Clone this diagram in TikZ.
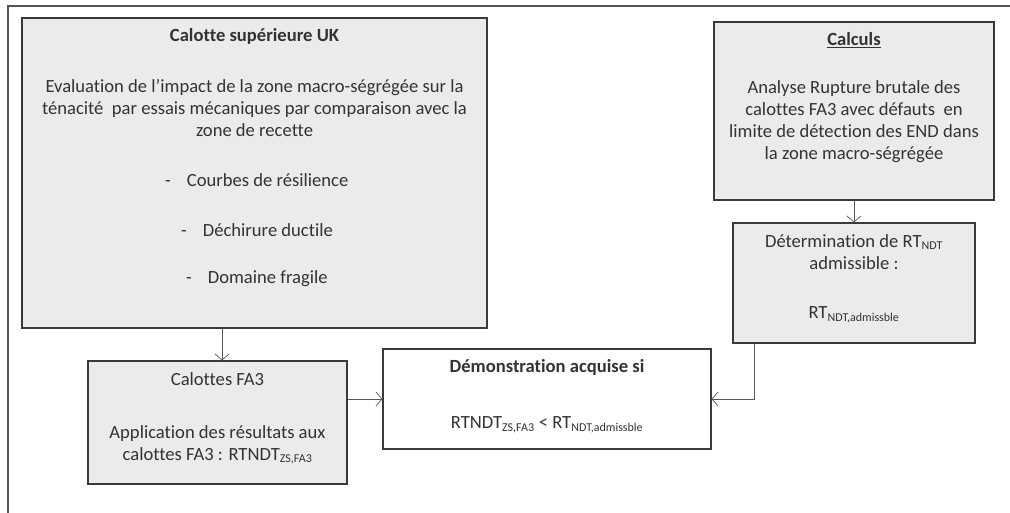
\documentclass[tikz,border=0pt]{standalone}
\usepackage{fontspec}
\setmainfont{Carlito}[Ligatures={NoCommon}]
\usetikzlibrary{arrows.meta}
\definecolor{boxfill}{HTML}{EBEBEB}
\definecolor{boxline}{HTML}{3A3A3A}
\definecolor{frameline}{HTML}{555555}
\definecolor{txt}{HTML}{333333}
\newcommand{\sbs}[1]{\textsubscript{\fontsize{12}{12}\selectfont #1}}
\newcommand{\mainsize}{\fontsize{18.6}{22}\selectfont}
\begin{document}
\begin{tikzpicture}[x=1pt,y=-1pt,
  panel/.style={draw=boxline, line width=1.1pt, fill=boxfill, inner sep=0pt},
  whitepanel/.style={draw=boxline, line width=1.1pt, fill=white, inner sep=0pt},
  label/.style={text=txt, font=\mainsize, inner sep=0pt, anchor=center},
  boldlabel/.style={label, font=\bfseries\mainsize},
  conn/.style={draw=gray!70!black, line width=0.7pt, -{Straight Barb[length=6pt,width=14pt]}}
]
\useasboundingbox (0,0) rectangle (1010,513);
\draw[frameline, line width=1.3pt] (1010,6) -- (8,6) -- (8,513);

% big box
\node[panel, minimum width=465pt, minimum height=310pt] (uk) at (254.5,173) {};
\node[boldlabel] (ukt) at (254.5,36) {Calotte supérieure UK};
\node[label, align=center] (ukb) at (254.5,108) {Evaluation de l’impact de la zone macro-ségrégée sur la\\ ténacité\ \ par essais mécaniques par comparaison avec la\\ zone de recette};
\node[label, anchor=west] (b1) at (165,180) {-\hspace{16pt}Courbes de résilience};
\node[label, anchor=west] (b2) at (181,230) {-\hspace{16pt}Déchirure ductile};
\node[label, anchor=west] (b3) at (186,279) {-\hspace{16pt}Domaine fragile};

% calculs
\node[panel, minimum width=280pt, minimum height=178pt] (calc) at (854,111) {};
\node[boldlabel] (calct) at (854,40) {\underline{Calculs}};
\node[label, align=center] (calcb) at (854,122) {Analyse Rupture brutale des\\ calottes FA3 avec défauts\ \ en\\ limite de détection des END dans\\ la zone macro-ségrégée};

% determination
\node[panel, minimum width=242pt, minimum height=120pt] (det) at (854,283) {};
\node[label, align=center] (dett) at (854,252) {Détermination de RT\sbs{NDT}\\ admissible :};
\node[label] (detb) at (854,315) {RT\sbs{NDT,admissble}};

% FA3
\node[panel, minimum width=259pt, minimum height=123pt] (fa3) at (217.5,422.5) {};
\node[label] (fa3t) at (217.5,379) {Calottes FA3};
\node[label, align=center] (fa3b) at (217.5,445) {Application des résultats aux\\ calottes FA3 : RTNDT\sbs{ZS,FA3}};

% demonstration
\node[whitepanel, minimum width=328pt, minimum height=100pt] (demo) at (547,399) {};
\node[boldlabel] (demot) at (547,367) {Démonstration acquise si};
\node[label] (demob) at (547,425) {RTNDT\sbs{ZS,FA3} < RT\sbs{NDT,admissble}};

% connectors
\coordinate (k1) at (754,399);
\draw[conn] (uk.south -| 222,0) -- (fa3.north -| 222,0);
\draw[conn] (calc.south) -- (det.north);
\draw[conn] (fa3.east |- demo.west) -- (demo.west);
\draw[conn] (det.south -| k1) -- (k1) -- (demo.east);
\end{tikzpicture}
\end{document}
